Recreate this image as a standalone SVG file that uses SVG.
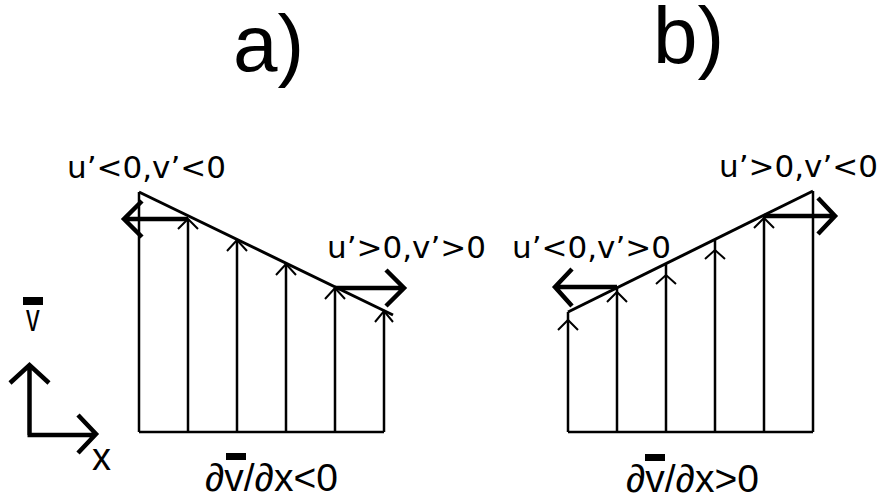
<svg xmlns="http://www.w3.org/2000/svg" width="882" height="499" viewBox="0 0 882 499">
<style>
.grid{stroke:#000;stroke-width:2.5;fill:none}
.slope{stroke:#000;stroke-width:3;fill:none}
.chev{stroke:#000;stroke-width:2;fill:none}
.thick{stroke:#000;stroke-width:4.5;fill:none;stroke-linecap:butt}
.axis{stroke:#000;stroke-width:4.5;fill:none}
.lbl{font-family:"DejaVu Sans",sans-serif;font-size:31px;fill:#000}
.big{font-family:"Liberation Sans",Arial,sans-serif;font-size:80px;fill:#000}
.bot{font-family:"Liberation Sans",Arial,sans-serif;font-size:39px;fill:#000}
.ax{font-family:"Liberation Sans",Arial,sans-serif;font-size:38px;fill:#000}
</style>
<rect width="882" height="499" fill="#fff"/>
<g id="title-a"><text class="big" x="233" y="71">a)</text></g>
<g id="title-b"><text class="big" x="653" y="63">b)</text></g>

<g id="panel-a">
  <path class="grid" d="M139,432 H384 M139,432 V192 M188,432 V219 M237,432 V240 M286,432 V264 M335,432 V288 M384,432 V311"/>
  <path class="slope" d="M139,192 L393,315"/>
  <path class="chev" d="M178,229 L188,219 L198,229 M227,251 L237,240 L247,251 M276,275 L286,264 L296,275 M325,299 L335,288 L345,299 M375,322 L384,311 L393,322"/>
</g>
<g id="panel-b">
  <path class="grid" d="M568,432 H813 M568,432 V312 M617,432 V287 M666,432 V263 M715,432 V239 M764,432 V215 M813,432 V191"/>
  <path class="slope" d="M568,312 L813,191"/>
  <path class="chev" d="M558,330 L568,320 L578,330 M607,302 L617,292 L627,302 M656,284 L666,275 L676,284 M705,259 L715,250 L725,259 M754,228 L764,218 L774,228"/>
</g>

<g id="connectors">
  <path class="thick" d="M188,219 H124 M142,201 L124,219 L142,237"/>
  <path class="thick" d="M335,288 H404 M386,270 L404,288 L386,306"/>
  <path class="thick" d="M617,287 H555 M572,269 L555,287 L572,306"/>
  <path class="thick" d="M764,216 H835 M818,198 L835,216 L818,234"/>
</g>

<g id="labels">
  <text class="lbl" x="67" y="178">u’&lt;0,v’&lt;0</text>
  <text class="lbl" x="327" y="258">u’&gt;0,v’&gt;0</text>
  <text class="lbl" x="512" y="258">u’&lt;0,v’&gt;0</text>
  <text class="lbl" x="719" y="177">u’&gt;0,v’&lt;0</text>
</g>

<g id="bottom-a">
  <text class="bot" x="205" y="491">∂v/∂x&lt;0</text>
  <rect x="226" y="453" width="20" height="7" fill="#000"/>
</g>
<g id="bottom-b">
  <text class="bot" x="626" y="492">∂v/∂x&gt;0</text>
  <rect x="645" y="454" width="20" height="7" fill="#000"/>
</g>

<g id="axes">
  <path class="axis" d="M29.5,435 V366 M10,383 L29.5,365 L49,383 M27.5,435 H96 M78,415 L96,434 L78,453"/>
  <rect x="23" y="297" width="20" height="8" fill="#000"/>
  <text class="ax" transform="translate(26,331) scale(0.72,1)" x="0" y="0">v</text>
  <text class="ax" x="92" y="470">x</text>
</g>
</svg>
